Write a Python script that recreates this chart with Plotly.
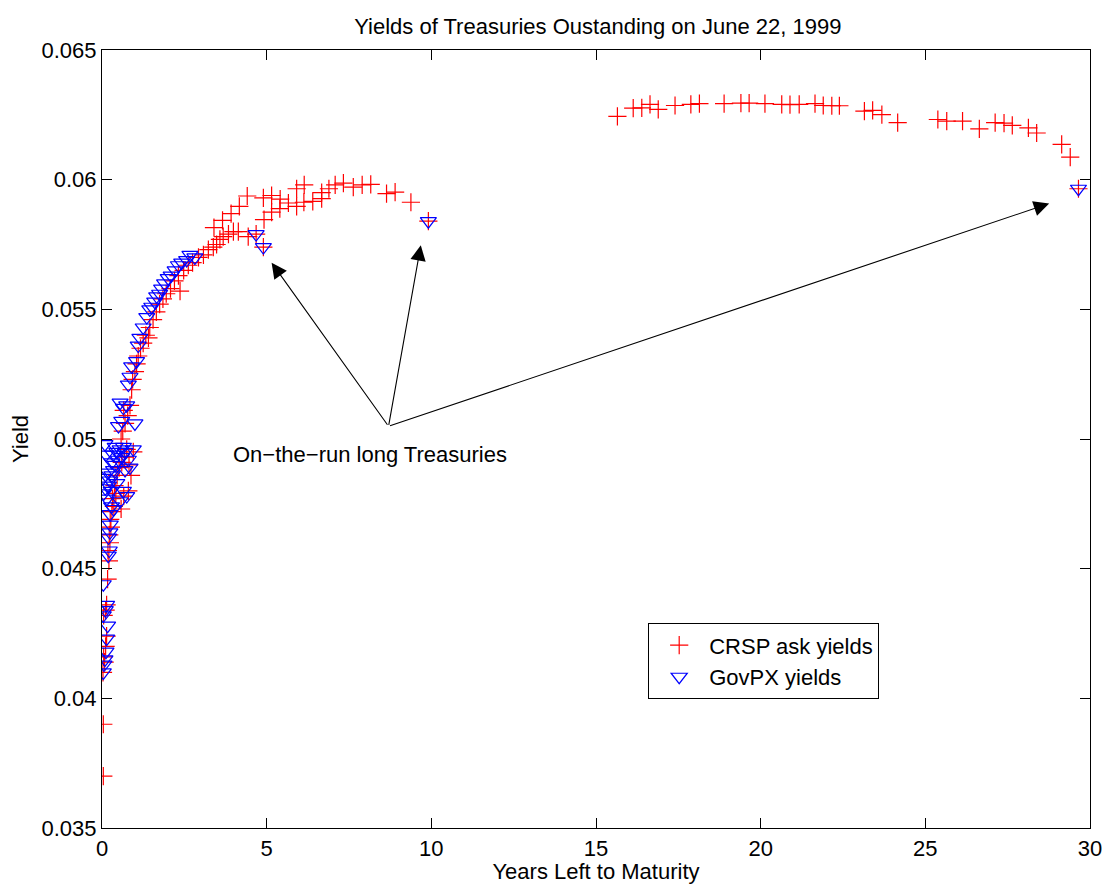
import plotly.graph_objects as go

# ---- data ----
crsp_years = [0.04, 0.04, 0.03, 0.08, 0.05, 0.11, 0.14, 0.05, 0.11, 0.14, 0.17, 0.21, 0.18, 0.24,
              0.22, 0.27, 0.25, 0.30, 0.36, 0.58, 0.32, 0.66, 0.42, 0.80, 0.38, 0.88, 0.46, 0.52,
              0.60, 0.68, 0.75, 0.82, 0.95, 0.58, 0.63, 0.70, 0.78, 0.66, 0.85, 0.90, 0.93, 1.00,
              1.05, 1.10, 1.17, 1.25, 1.33, 1.41, 1.45, 1.55, 1.65, 1.75, 1.85, 1.95, 2.08, 2.20,
              2.37, 2.32, 2.48, 2.62, 2.75, 2.93, 3.08, 3.23, 3.38, 3.48, 3.58, 3.68, 3.84, 3.99,
              4.14, 4.44, 4.68, 4.90,
              3.40, 3.66, 3.92, 4.17, 4.41, 4.90, 5.15, 5.41, 5.91, 6.14, 6.67, 6.89, 7.08, 7.33,
              7.63, 7.90, 8.16, 8.64, 8.90, 9.38, 9.91,
              4.92, 5.15, 5.40, 5.66, 5.91, 6.13, 6.40, 6.67,
              15.65, 16.13, 16.39, 16.64, 16.89, 17.40, 17.88, 18.14, 18.89, 19.40, 19.65, 20.13,
              20.64, 20.89, 21.17, 21.65, 21.90, 22.16, 22.39, 23.15, 23.40, 23.68, 24.16, 25.38,
              25.65, 26.13, 26.64, 27.12, 27.39, 27.64, 28.13, 28.38, 29.14, 29.40, 29.65]
crsp_yield = [0.0370, 0.0390, 0.0410, 0.0414, 0.0416, 0.0420, 0.0424, 0.0432, 0.0434, 0.0436,
              0.0446, 0.0453, 0.0457, 0.0460, 0.0463, 0.0466, 0.0469, 0.0472, 0.0474, 0.0473,
              0.0477, 0.0478, 0.0479, 0.0480, 0.0482, 0.0486, 0.0486, 0.0489, 0.0491, 0.0493,
              0.0496, 0.0490, 0.0495, 0.0500, 0.0503, 0.0506, 0.0509, 0.0511, 0.0513, 0.0519,
              0.0523, 0.0526, 0.0529, 0.0532, 0.0535, 0.0537, 0.0540, 0.0539, 0.0543, 0.0546,
              0.0549, 0.0552, 0.0554, 0.0556, 0.0558, 0.0561, 0.0557, 0.0563, 0.0565, 0.0567,
              0.0568, 0.0570, 0.0571, 0.0573, 0.0574, 0.0575, 0.0577, 0.0578, 0.0579, 0.0580,
              0.0580, 0.0578, 0.0579, 0.0574,
              0.05815, 0.05843, 0.05869, 0.05897, 0.05937, 0.05930, 0.05939, 0.05925, 0.05965,
              0.05980, 0.05950, 0.05965, 0.05980, 0.05987, 0.05971, 0.05980, 0.05982, 0.05946,
              0.05952, 0.05913, 0.05840,
              0.05846, 0.05875, 0.05888, 0.05910, 0.05897, 0.05913, 0.05916, 0.05927,
              0.06244, 0.06276, 0.06277, 0.06290, 0.06271, 0.06286, 0.06290, 0.06293, 0.06293,
              0.06295, 0.06295, 0.06293, 0.06290, 0.06289, 0.06290, 0.06293, 0.06286, 0.06285,
              0.06285, 0.06264, 0.06267, 0.06251, 0.06220, 0.06232, 0.06226, 0.06226, 0.06196,
              0.06220, 0.06218, 0.06209, 0.06200, 0.06180, 0.06136, 0.06087, 0.05965]

govpx_years = [0.04, 0.06, 0.09, 0.12, 0.14, 0.17, 0.04, 0.10, 0.14, 0.04, 0.19, 0.22, 0.20,
               0.24, 0.25, 0.24, 0.29, 0.35, 0.05, 0.10, 0.03, 0.24, 0.30, 0.35, 0.40, 0.50,
               0.60, 0.70, 0.80, 0.95, 0.85, 0.09, 0.34, 0.45, 0.55, 0.65, 0.55, 0.65, 0.75,
               0.50, 0.60, 0.65, 0.55, 0.75, 1.00, 0.80, 0.85, 0.90, 1.05, 1.10, 1.15, 1.25,
               1.36, 1.45, 1.51, 1.60, 1.66, 1.75, 1.81, 1.90, 2.01, 2.10, 2.22, 2.32, 2.42,
               2.57, 2.67, 2.82, 4.68, 4.90, 9.91, 29.65,
               0.15, 0.20, 0.28, 0.18, 0.45, 0.40, 0.70, 0.30, 0.12]
govpx_yield = [0.0410, 0.0413, 0.0415, 0.0418, 0.0423, 0.0428, 0.0432, 0.0434, 0.0436, 0.0444,
               0.0455, 0.0457, 0.0462, 0.0464, 0.0467, 0.0471, 0.0474, 0.0473, 0.0479, 0.0481,
               0.0485, 0.0484, 0.0486, 0.0488, 0.0490, 0.0492, 0.0493, 0.0495, 0.0492, 0.0496,
               0.0489, 0.0498, 0.0494, 0.0495, 0.0496, 0.0497, 0.0476, 0.0480, 0.0478, 0.0505,
               0.0507, 0.0512, 0.0514, 0.0513, 0.0506, 0.0521, 0.0524, 0.0528, 0.0530, 0.0536,
               0.0539, 0.0543, 0.0547, 0.0550, 0.0551, 0.0553, 0.0555, 0.0556, 0.0558, 0.0560,
               0.0562, 0.0563, 0.0565, 0.0567, 0.0568, 0.0569, 0.0571, 0.0570, 0.0579, 0.0574,
               0.0584, 0.05965,
               0.0477, 0.0482, 0.0480, 0.0487, 0.0483, 0.0497, 0.0488, 0.0491, 0.0494]

x_ticks = [0, 5, 10, 15, 20, 25, 30]
y_ticks = [0.035, 0.04, 0.045, 0.05, 0.055, 0.06, 0.065]
y_ticktext = ["0.035", "0.04", "0.045", "0.05", "0.055", "0.06", "0.065"]

# annotation: text position and arrow targets (years, yield)
label_text = "On\u2212the\u2212run long Treasuries"
label_pos = (8.15, 0.04941)
arrow_tail = (8.70, 0.05049)
arrow_heads = [(5.15, 0.0568), (9.68, 0.05747), (28.76, 0.05908)]

FONT = "Liberation Sans, Arial, Helvetica, sans-serif"
FS = 22

fig = go.Figure()
fig.add_trace(go.Scatter(
    x=crsp_years, y=crsp_yield, mode="markers", name="CRSP ask yields",
    marker=dict(symbol="cross-thin-open", size=13, color="#ff0000",
                line=dict(color="#ff0000", width=1.2)),
))
fig.add_trace(go.Scatter(
    x=govpx_years, y=govpx_yield, mode="markers", name="GovPX yields",
    marker=dict(symbol="triangle-down-open", size=14, color="#0000ff",
                line=dict(color="#0000ff", width=1.2)),
))

annotations = []
for hx, hy in arrow_heads:
    annotations.append(dict(
        x=hx, y=hy, xref="x", yref="y", ax=arrow_tail[0], ay=arrow_tail[1],
        axref="x", ayref="y", text="", showarrow=True, arrowhead=2,
        arrowsize=2.8, arrowwidth=1.1, arrowcolor="black", standoff=0, startstandoff=0,
    ))
annotations.append(dict(
    x=label_pos[0], y=label_pos[1], xref="x", yref="y", text=label_text,
    showarrow=False, font=dict(family=FONT, size=FS, color="black"),
    xanchor="center", yanchor="middle",
))

axis_common = dict(showgrid=False, zeroline=False, showline=True, linecolor="black",
                   linewidth=1.2, mirror="ticks", ticks="inside", ticklen=10,
                   tickcolor="black", tickwidth=1,
                   tickfont=dict(family=FONT, size=FS, color="black"))

fig.update_layout(
    width=1104, height=884,
    margin=dict(l=102, r=14, t=50, b=56, autoexpand=False),
    paper_bgcolor="white", plot_bgcolor="white",
    font=dict(family=FONT, size=FS, color="black"),
    title=dict(text="Yields of Treasuries Oustanding on June 22, 1999",
               x=0.5415, xanchor="center", y=1 - 26 / 884, yanchor="middle",
               yref="container", font=dict(family=FONT, size=FS, color="black")),
    xaxis=dict(range=[0, 30], tickvals=x_ticks, automargin=False,
               title=dict(text="Years Left to Maturity", standoff=2,
                          font=dict(family=FONT, size=FS)),
               **axis_common),
    yaxis=dict(range=[0.035, 0.065], tickvals=y_ticks, ticktext=y_ticktext,
               automargin=False,
               title=dict(text="Yield", standoff=6, font=dict(family=FONT, size=FS)),
               **axis_common),
    legend=dict(x=(648 - 102) / 988, y=(828 - 623) / 778.5, xanchor="left", yanchor="top",
                bgcolor="white", bordercolor="black", borderwidth=1.2,
                font=dict(family=FONT, size=FS, color="black"), itemwidth=50,
                tracegroupgap=0),
    annotations=annotations,
    showlegend=True,
)

fig.write_html("out.html")
